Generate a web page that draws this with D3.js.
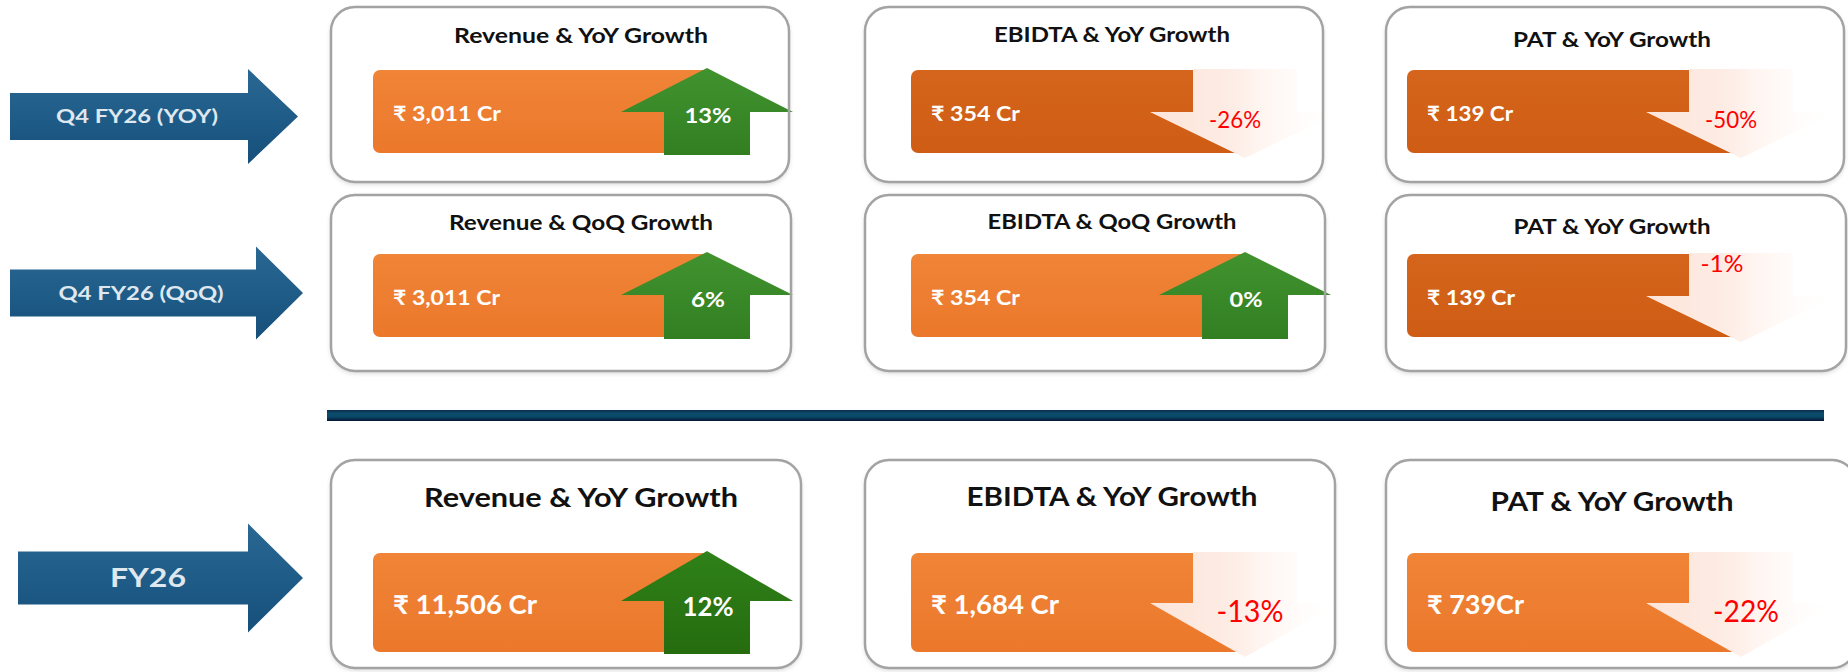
<!DOCTYPE html>
<html>
<head>
<meta charset="utf-8">
<script src="https://cdn.jsdelivr.net/npm/d3@7"></script>
<style>
    html, body { margin: 0; padding: 0; background: #ffffff; }
    svg { display: block; font-family: Lato, 'Noto Sans', 'DejaVu Sans', sans-serif; }
</style>
</head>
<body>
<svg id="drawing_region"></svg>
<script>
// ---- data ----
const periods = ["Q4 FY26 (YOY)", "Q4 FY26 (QoQ)", "FY26"];
const metrics = ["Revenue", "EBIDTA", "PAT"];
const titles = [
    ["Revenue & YoY Growth", "EBIDTA & YoY Growth", "PAT & YoY Growth"],
    ["Revenue & QoQ Growth", "EBIDTA & QoQ Growth", "PAT & YoY Growth"],
    ["Revenue & YoY Growth", "EBIDTA & YoY Growth", "PAT & YoY Growth"]
];
const valueLabels = [
    ["₹ 3,011 Cr", "₹ 354 Cr", "₹ 139 Cr"],
    ["₹ 3,011 Cr", "₹ 354 Cr", "₹ 139 Cr"],
    ["₹ 11,506 Cr", "₹ 1,684 Cr", "₹ 739Cr"]
];
const growth = [
    [13, -26, -50],
    [6, 0, -1],
    [12, -13, -22]
];

// ---- layout (positions / sizes only) ----
const W = 1848, H = 672;
const xCard = d3.scaleOrdinal().domain(metrics).range([331, 865, 1386]);
const yCard = d3.scaleOrdinal().domain(periods).range([7, 195, 460]);
const hCard = d3.scaleOrdinal().domain(periods).range([175, 176, 208]);
const wCard = d3.scaleOrdinal().domain(periods).range([458, 460, 470]);
const yArrow = d3.scaleOrdinal().domain(periods).range([116.5, 293, 578]);

const rowStyle = [
    { titleSize: 21, valueSize: 21, pctSize: 21, downSize: 24, titleDy: 36, barDy: 63, barH: 83, head: 44, notch: 42, arrowW: [10, 248, 298], body: 23.5, headHalf: 47.5, labelSize: 19 },
    { titleSize: 21, valueSize: 21, pctSize: 21, downSize: 24, titleDy: 35, barDy: 59, barH: 83, head: 43, notch: 42, arrowW: [10, 256, 303], body: 23.5, headHalf: 46.5, labelSize: 19 },
    { titleSize: 27, valueSize: 26, pctSize: 27, downSize: 30, titleDy: 47, barDy: 93, barH: 99, head: 50, notch: 50, arrowW: [18, 248, 303], body: 26.5, headHalf: 54.5, labelSize: 26 }
];
const titleCx = [250, 247, 226];
const titleDyCol = [0, -1, 4];
const titleW = [[254, 236, 198], [264, 249, 197], [314, 291, 243]];
const valueW = [[108, 89, 86], [107, 89, 88], [144, 128, 97]];
const pctW = [[47, 52, 52], [34, 33, 43], [51, 67, 66]];
const periodW = [162, 165, 76];
const barDx = [42, 46, 21];
const arrowDx = 334;
const darkBar = [[false, true, true], [false, false, true], [false, false, false]];

const svg = d3.select('#drawing_region')
    .attr('width', W)
    .attr('height', H);

const defs = svg.append('defs');

function linear(id, x2, y2, stops) {
    const g = defs.append('linearGradient').attr('id', id)
        .attr('x1', 0).attr('y1', 0).attr('x2', x2).attr('y2', y2);
    stops.forEach(s => g.append('stop').attr('offset', s[0]).attr('stop-color', s[1]).attr('stop-opacity', s[2] == null ? 1 : s[2]));
}
linear('gBlue', 0, 1, [[0, '#2a6893'], [0.5, '#1f5c88'], [1, '#164f7a']]);
linear('gOrange', 0, 1, [[0, '#f08437'], [1, '#eb782b']]);
linear('gDark', 0, 1, [[0, '#d5651c'], [1, '#cf5c14']]);
linear('gGreen', 0, 1, [[0, '#41932f'], [1, '#327f22']]);
linear('gGreenDark', 0, 1, [[0, '#2f8119'], [1, '#256c0f']]);
linear('gPink', 1, 0, [[0, '#fde4d8'], [0.45, '#fdede6'], [0.56, '#fff4ef'], [0.8, '#fffaf8', 0.6], [1, '#ffffff', 0]]);
linear('gRule', 0, 1, [[0, '#0d2c4c'], [0.35, '#0b4f6d'], [0.65, '#0a4465'], [1, '#061533']]);

const shadow = defs.append('filter').attr('id', 'shadow')
    .attr('x', '-5%').attr('y', '-5%').attr('width', '110%').attr('height', '115%');
shadow.append('feDropShadow').attr('dx', 0).attr('dy', 2).attr('stdDeviation', 2.5)
    .attr('flood-color', '#000').attr('flood-opacity', 0.18);

function fitText(sel, w) {
    sel.attr('textLength', w).attr('lengthAdjust', 'spacingAndGlyphs');
}

// ---- left period arrows ----
periods.forEach((p, r) => {
    const s = rowStyle[r];
    const [x0, x1, xt] = s.arrowW;
    const cy = yArrow(p);
    const path = d3.path();
    path.moveTo(x0, cy - s.body);
    path.lineTo(x1, cy - s.body);
    path.lineTo(x1, cy - s.headHalf);
    path.lineTo(xt, cy);
    path.lineTo(x1, cy + s.headHalf);
    path.lineTo(x1, cy + s.body);
    path.lineTo(x0, cy + s.body);
    path.closePath();
    svg.append('path').attr('d', path.toString()).attr('fill', 'url(#gBlue)');

    const t = svg.append('text')
        .attr('x', (x0 + x1) / 2 + (r === 2 ? 15 : 8))
        .attr('y', cy + s.labelSize * 0.36)
        .attr('text-anchor', 'middle')
        .attr('fill', '#dfe7ef')
        .style('font-size', s.labelSize + 'px')
        .style('font-weight', 'bold')
        .text(p);
    fitText(t, periodW[r]);
});

// ---- divider ----
svg.append('rect')
    .attr('x', 327).attr('y', 410)
    .attr('width', 1824 - 327).attr('height', 11)
    .attr('fill', 'url(#gRule)');

// ---- cards ----
periods.forEach((p, r) => {
    const s = rowStyle[r];
    metrics.forEach((m, c) => {
        const cx0 = xCard(m), cy0 = yCard(p);
        const g = svg.append('g');

        g.append('rect')
            .attr('x', cx0).attr('y', cy0)
            .attr('width', wCard(p)).attr('height', hCard(p))
            .attr('rx', 24)
            .attr('fill', '#ffffff')
            .attr('filter', 'url(#shadow)');

        const tt = g.append('text')
            .attr('x', cx0 + titleCx[c])
            .attr('y', cy0 + s.titleDy + titleDyCol[c])
            .attr('text-anchor', 'middle')
            .attr('fill', '#111')
            .style('font-size', s.titleSize + 'px')
            .style('font-weight', 'bold')
            .text(titles[r][c]);
        fitText(tt, titleW[r][c]);

        const bx = cx0 + barDx[c];
        const by = cy0 + s.barDy;
        const bh = s.barH;
        const ax = bx + arrowDx;
        const v = growth[r][c];
        const up = v >= 0;

        g.append('rect')
            .attr('x', bx).attr('y', by)
            .attr('width', ax + 5 - bx).attr('height', bh)
            .attr('rx', 7)
            .attr('fill', darkBar[r][c] ? 'url(#gDark)' : 'url(#gOrange)');

        const a = d3.path();
        if (up) {
            const tip = by - 2, base = tip + s.head, bottom = by + bh + 2;
            a.moveTo(ax, tip);
            a.lineTo(ax + 86, base);
            a.lineTo(ax + 43, base);
            a.lineTo(ax + 43, bottom);
            a.lineTo(ax - 43, bottom);
            a.lineTo(ax - 43, base);
            a.lineTo(ax - 86, base);
            a.closePath();
            g.append('path').attr('d', a.toString())
                .attr('fill', r === 2 ? 'url(#gGreenDark)' : 'url(#gGreen)');
        } else {
            const notch = by + s.notch, tip = by + bh + 5;
            a.moveTo(ax - 52, by - 1);
            a.lineTo(ax + 52, by - 1);
            a.lineTo(ax + 52, notch);
            a.lineTo(ax + 95, notch);
            a.lineTo(ax, tip);
            a.lineTo(ax - 95, notch);
            a.lineTo(ax - 52, notch);
            a.closePath();
            g.append('path').attr('d', a.toString()).attr('fill', 'url(#gPink)');
        }

        const vt = g.append('text')
            .attr('x', bx + 20)
            .attr('y', by + bh * 0.62)
            .attr('fill', '#ffffff')
            .style('font-size', s.valueSize + 'px')
            .style('font-weight', 'bold')
            .text(valueLabels[r][c]);
        fitText(vt, valueW[r][c]);

        const label = (v < 0 ? '-' : '') + Math.abs(v) + '%';
        let pt;
        if (up) {
            pt = g.append('text')
                .attr('x', ax + 1)
                .attr('y', by + bh * 0.635)
                .attr('text-anchor', 'middle')
                .attr('fill', '#ffffff')
                .style('font-size', s.pctSize + 'px')
                .style('font-weight', 'bold')
                .text(label);
        } else {
            // the small drop in row 2 sits above the arrow head
            const above = r === 1 && c === 2;
            pt = g.append('text')
                .attr('x', above ? ax - 19 : ax + (r === 2 ? 5 : -10))
                .attr('y', above ? by + 18 : by + bh * 0.7)
                .attr('text-anchor', 'middle')
                .attr('fill', '#ff0000')
                .style('font-size', s.downSize + 'px')
                .text(label);
        }
        fitText(pt, pctW[r][c]);

        // card outline on top
        g.append('rect')
            .attr('x', cx0).attr('y', cy0)
            .attr('width', wCard(p)).attr('height', hCard(p))
            .attr('rx', 24)
            .attr('fill', 'none')
            .attr('stroke', '#a3a3a3')
            .attr('stroke-width', 2.5);
    });
});
</script>
</body>
</html>
